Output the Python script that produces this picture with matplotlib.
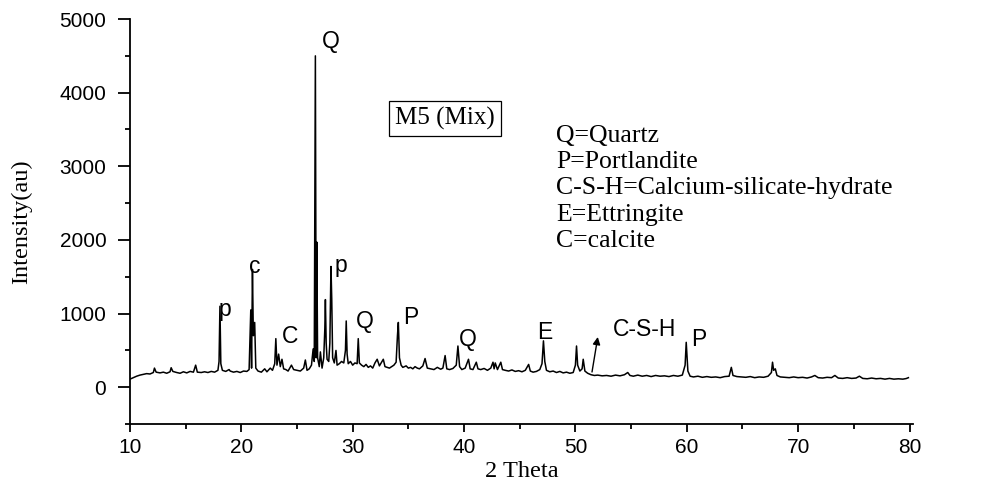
import matplotlib
matplotlib.use("Agg")
import matplotlib.pyplot as plt
from matplotlib.ticker import MultipleLocator

# ---- data (2-theta, intensity) ----
two_theta = [
    10.0, 10.3, 10.6, 10.9, 11.2, 11.5, 11.8, 12.1, 12.2, 12.35, 12.7, 13.0, 13.3, 13.6, 13.7, 13.85,
    14.2, 14.5, 14.8, 15.1, 15.4, 15.7, 15.9, 16.05, 16.4, 16.7, 17.0, 17.3, 17.6, 17.9, 18.0, 18.08,
    18.16, 18.3, 18.6, 18.9, 19.0, 19.3, 19.6, 19.9, 20.2, 20.5, 20.7, 20.85, 20.92, 21.0, 21.08, 21.2,
    21.3, 21.5, 21.8, 22.1, 22.3, 22.6, 22.8, 23.0, 23.1, 23.2, 23.35, 23.5, 23.65, 23.8, 24.0, 24.2,
    24.5, 24.7, 25.0, 25.3, 25.6, 25.75, 25.9, 26.1, 26.3, 26.45, 26.55, 26.65, 26.72, 26.78, 26.85, 27.0,
    27.1, 27.25, 27.4, 27.5, 27.55, 27.62, 27.7, 27.85, 27.95, 28.05, 28.12, 28.2, 28.35, 28.5, 28.6, 28.8,
    29.0, 29.2, 29.35, 29.42, 29.5, 29.6, 29.8, 30.0, 30.2, 30.4, 30.5, 30.6, 30.8, 31.0, 31.2, 31.4,
    31.6, 31.8, 32.0, 32.2, 32.4, 32.6, 32.75, 32.9, 33.1, 33.3, 33.5, 33.7, 33.9, 34.02, 34.1, 34.2,
    34.35, 34.5, 34.8, 35.0, 35.2, 35.4, 35.6, 35.8, 36.0, 36.3, 36.5, 36.7, 37.0, 37.3, 37.6, 37.9,
    38.1, 38.3, 38.45, 38.7, 39.0, 39.3, 39.45, 39.6, 39.8, 40.1, 40.4, 40.55, 40.8, 41.1, 41.25, 41.5,
    41.8, 42.1, 42.4, 42.6, 42.7, 42.8, 43.0, 43.3, 43.45, 43.7, 44.0, 44.3, 44.6, 44.9, 45.2, 45.5,
    45.8, 45.95, 46.2, 46.5, 46.8, 47.0, 47.13, 47.25, 47.4, 47.7, 48.0, 48.3, 48.6, 48.9, 49.2, 49.5,
    49.8, 50.0, 50.1, 50.2, 50.4, 50.6, 50.7, 50.85, 51.1, 51.4, 51.7, 52.0, 52.4, 52.8, 53.2, 53.6,
    54.0, 54.4, 54.7, 54.9, 55.2, 55.6, 56.0, 56.4, 56.8, 57.2, 57.6, 58.0, 58.4, 58.8, 59.2, 59.6,
    59.85, 59.95, 60.1, 60.3, 60.6, 61.0, 61.4, 61.8, 62.2, 62.6, 63.0, 63.4, 63.8, 64.0, 64.15, 64.5,
    64.9, 65.3, 65.7, 66.1, 66.5, 66.9, 67.3, 67.6, 67.7, 67.8, 67.95, 68.1, 68.4, 68.8, 69.2, 69.6,
    70.0, 70.4, 70.8, 71.2, 71.5, 71.8, 72.2, 72.6, 73.0, 73.3, 73.6, 74.0, 74.4, 74.8, 75.2, 75.5,
    75.8, 76.2, 76.6, 77.0, 77.4, 77.8, 78.2, 78.6, 79.0, 79.4, 79.7, 79.9,
]
intensity = [
    110, 130, 150, 165, 175, 185, 180, 200, 260, 205, 195, 205, 190, 210, 265, 215,
    200, 190, 210, 195, 215, 205, 300, 205, 200, 210, 200, 215, 205, 230, 350, 1100,
    320, 230, 215, 240, 220, 205, 215, 200, 220, 215, 240, 1050, 260, 1600, 700, 880,
    260, 220, 205, 250, 210, 260, 230, 320, 660, 300, 450, 280, 380, 250, 240, 220,
    300, 240, 230, 220, 260, 370, 230, 250, 300, 520, 350, 4500, 400, 1970, 400, 280,
    480, 260, 400, 800, 1190, 600, 380, 350, 600, 1640, 1200, 400, 330, 500, 300, 320,
    350, 330, 500, 900, 450, 320, 350, 300, 330, 320, 660, 330, 300, 280, 310, 270,
    290, 260, 330, 380, 290, 340, 380, 280, 270, 260, 280, 300, 340, 700, 880, 400,
    300, 270, 290, 260, 270, 250, 280, 260, 250, 290, 390, 260, 250, 240, 270, 245,
    260, 430, 250, 240, 255, 300, 560, 280, 240, 260, 380, 250, 240, 340, 250, 240,
    255, 230, 260, 340, 250, 330, 240, 340, 240, 230, 220, 235, 215, 225, 210, 230,
    310, 220, 205, 215, 240, 320, 630, 350, 230, 210, 220, 200, 215, 195, 205, 190,
    200, 300, 560, 300, 220, 250, 380, 220, 190, 170, 160, 165, 155, 160, 150, 165,
    155, 170, 200, 160, 150, 165, 150, 160, 145, 160, 150, 155, 145, 160, 150, 165,
    300, 610, 220, 150, 140, 150, 135, 145, 135, 140, 130, 145, 150, 270, 160, 145,
    140, 135, 145, 130, 140, 135, 150, 200, 340, 230, 250, 160, 140, 135, 130, 140,
    130, 135, 125, 140, 160, 130, 125, 135, 130, 160, 125, 120, 130, 120, 125, 150,
    120, 115, 125, 115, 120, 110, 120, 110, 115, 110, 118, 130,
]

peak_labels = ["Q", "c", "p", "C", "p", "Q", "P", "Q", "E", "C-S-H", "P"]
label_x = [28.0, 21.25, 18.55, 24.35, 28.95, 31.1, 35.25, 40.3, 47.25, 56.2, 61.1]
label_y = [4690, 1640, 1060, 690, 1650, 890, 950, 650, 750, 790, 650]

legend_lines = ["Q=Quartz", "P=Portlandite", "C-S-H=Calcium-silicate-hydrate",
                "E=Ettringite", "C=calcite"]

fig = plt.figure(figsize=(9.83, 4.88), dpi=100)
ax = fig.add_axes([0.1322, 0.131, 0.797, 0.830])

ax.plot(two_theta, intensity, color="black", lw=1.1)

ax.set_xlim(10, 80.35)
ax.set_ylim(-500, 5000)
ax.xaxis.set_major_locator(MultipleLocator(10))
ax.xaxis.set_minor_locator(MultipleLocator(5))
ax.yaxis.set_major_locator(MultipleLocator(1000))
ax.yaxis.set_minor_locator(MultipleLocator(500))
ax.spines["top"].set_visible(False)
ax.spines["right"].set_visible(False)
for s in ("left", "bottom"):
    ax.spines[s].set_linewidth(1.3)
ax.tick_params(axis="y", which="major", direction="out", length=9, width=1.3,
               labelsize=15, pad=8)
ax.tick_params(axis="x", which="major", direction="out", length=6, width=1.3,
               labelsize=15, pad=4)
ax.tick_params(which="minor", direction="out", length=3.5, width=1.3)
for lab in ax.get_xticklabels() + ax.get_yticklabels():
    lab.set_fontfamily("Liberation Sans")

ax.set_xlabel("2 Theta", fontfamily="Liberation Serif", fontsize=17.5, labelpad=3)
ax.set_ylabel("Intensity(au)", fontfamily="Liberation Serif", fontsize=17.5, labelpad=20)

for t, x, y in zip(peak_labels, label_x, label_y):
    ax.text(x, y, t, fontfamily="Liberation Sans", fontsize=16.5,
            ha="center", va="center")

# arrow for C-S-H
ax.annotate("", xy=(52.05, 720), xytext=(51.45, 170),
            arrowprops=dict(arrowstyle="-|>", color="black", lw=1.0,
                            mutation_scale=11))

ax.text(0.453, 0.757, "M5 (Mix)", transform=fig.transFigure,
        fontfamily="Liberation Serif", fontsize=18, ha="center", va="center",
        bbox=dict(boxstyle="square,pad=0.25", fc="white", ec="black", lw=0.9))

for i, line in enumerate(legend_lines):
    fig.text(0.566, 1 - (136 + i * 26.2) / 488, line, fontfamily="Liberation Serif",
             fontsize=18.5, ha="left", va="center")

fig.savefig("out.png", dpi=100)
